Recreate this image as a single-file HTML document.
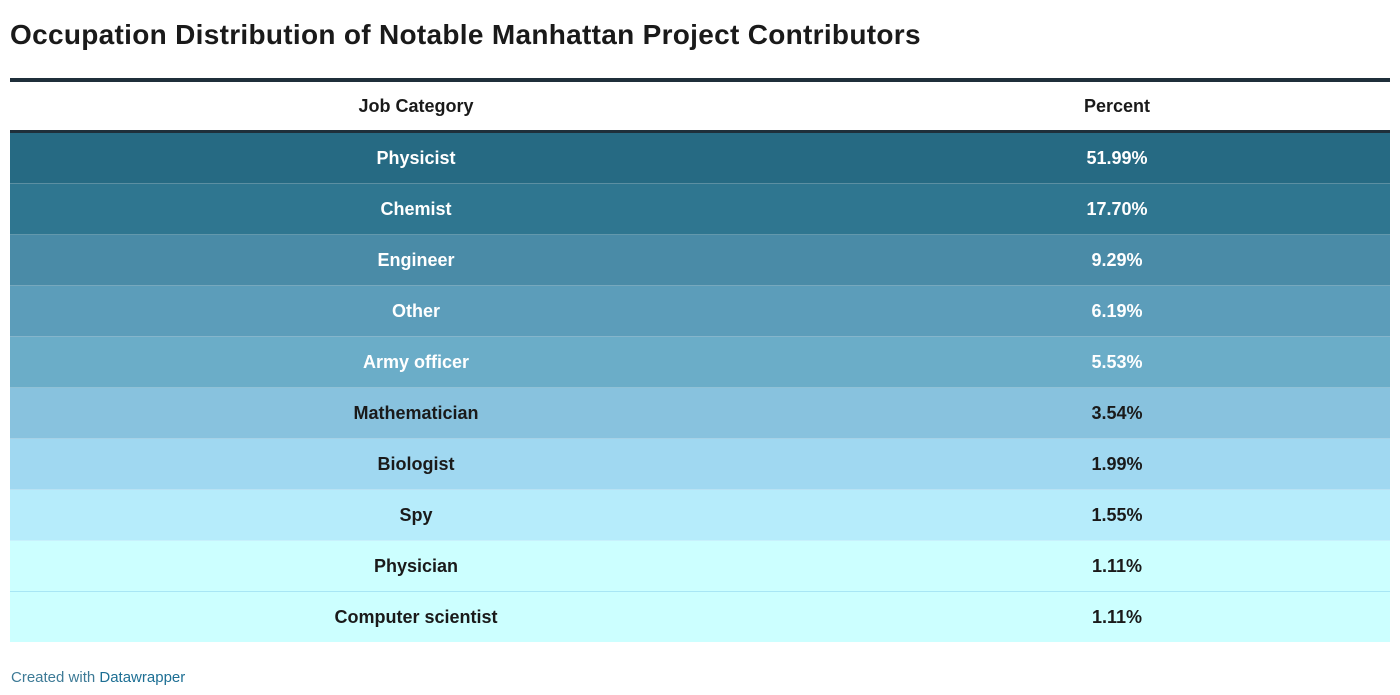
<!DOCTYPE html>
<html><head><meta charset="utf-8"><style>
body{margin:0;width:1400px;height:695px;background:#fff;font-family:"Liberation Sans",sans-serif;position:relative;overflow:hidden}
h1{position:absolute;left:10px;top:19px;margin:0;font-size:28px;font-weight:bold;color:#1a1a1a;letter-spacing:0.3px}
table{position:absolute;left:10px;top:78px;width:1380px;border-collapse:collapse;border-top:4px solid #1f2f3a}
th{height:48px;font-size:18px;color:#1a1a1a;border-bottom:3px solid #1f2f3a;text-align:center;padding:0}
td{height:50px;padding:0;text-align:center;font-size:18px;font-weight:bold}
.c1{width:812px}
.c2{padding-left:22px}
.foot{position:absolute;left:11px;top:669px;font-size:15px;color:#3d7a96}
</style></head><body>
<h1>Occupation Distribution of Notable Manhattan Project Contributors</h1>
<table>
<thead><tr><th class="c1">Job Category</th><th class="c2">Percent</th></tr></thead>
<tbody id="tb"></tbody>
</table>
<div class="foot">Created with <span style="color:#1d6f94">Datawrapper</span></div>
<script>
const categories=["Physicist","Chemist","Engineer","Other","Army officer","Mathematician","Biologist","Spy","Physician","Computer scientist"];
const percents=[51.99,17.70,9.29,6.19,5.53,3.54,1.99,1.55,1.11,1.11];
const colors=["#266a83","#2f7690","#4a8ba7","#5c9dba","#6badc8","#88c2de","#a0d8f1","#b6ecfb","#ccffff","#ccffff"];
const tb=document.getElementById('tb');
categories.forEach((c,i)=>{
  const tr=document.createElement('tr');
  
  
  tr.style.background=colors[i];
  tr.style.color=i<5?'#fff':'#1a1a1a';
  if(i>0)tr.style.borderTop=i===9?'1px solid #a8e6f5':'1px solid rgba(255,255,255,0.25)';
  const a=document.createElement('td');a.className='c1';a.textContent=c;
  
  
  const b=document.createElement('td');b.className='c2';b.textContent=percents[i].toFixed(2)+'%';
  
  
  tr.appendChild(a);tr.appendChild(b);tb.appendChild(tr);
});
</script>
</body></html>
